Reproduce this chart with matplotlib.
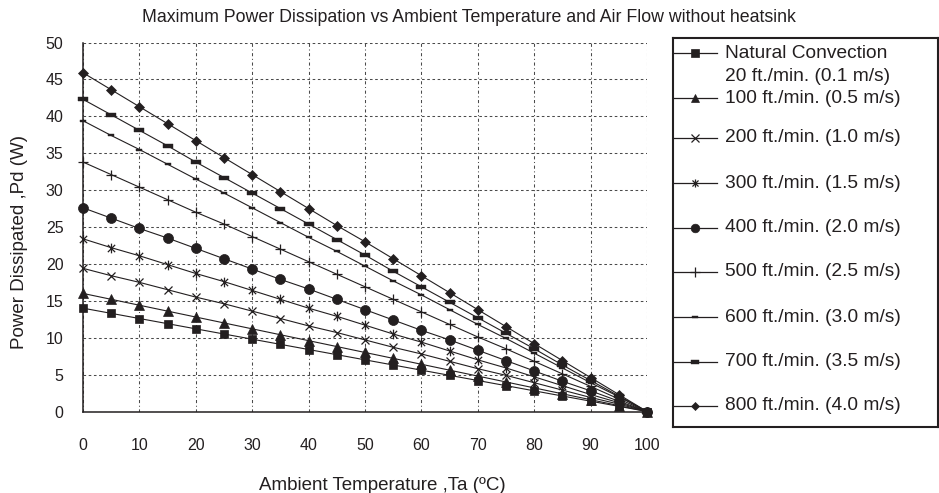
import matplotlib
matplotlib.use('Agg')
import matplotlib.pyplot as plt
from matplotlib.path import Path

plt.rcParams['font.family'] = ['Liberation Sans', 'DejaVu Sans']

# ---------------- data ----------------
temps = [0, 5, 10, 15, 20, 25, 30, 35, 40, 45, 50, 55, 60, 65, 70, 75, 80, 85, 90, 95, 100]

series_labels = [
    "Natural Convection\n20 ft./min. (0.1 m/s)",
    "100 ft./min. (0.5 m/s)",
    "200 ft./min. (1.0 m/s)",
    "300 ft./min. (1.5 m/s)",
    "400 ft./min. (2.0 m/s)",
    "500 ft./min. (2.5 m/s)",
    "600 ft./min. (3.0 m/s)",
    "700 ft./min. (3.5 m/s)",
    "800 ft./min. (4.0 m/s)",
]

pd_natural = [14.0, 13.3, 12.6, 11.9, 11.2, 10.5, 9.8, 9.1, 8.4, 7.7, 7.0, 6.3, 5.6, 4.9, 4.2, 3.5, 2.8, 2.1, 1.4, 0.7, 0.0]
pd_100 = [16.0, 15.2, 14.4, 13.6, 12.8, 12.0, 11.2, 10.4, 9.6, 8.8, 8.0, 7.2, 6.4, 5.6, 4.8, 4.0, 3.2, 2.4, 1.6, 0.8, 0.0]
pd_200 = [19.4, 18.4, 17.5, 16.5, 15.5, 14.6, 13.6, 12.6, 11.6, 10.7, 9.7, 8.7, 7.8, 6.8, 5.8, 4.9, 3.9, 2.9, 1.9, 1.0, 0.0]
pd_300 = [23.4, 22.2, 21.1, 19.9, 18.7, 17.6, 16.4, 15.2, 14.0, 12.9, 11.7, 10.5, 9.4, 8.2, 7.0, 5.9, 4.7, 3.5, 2.3, 1.2, 0.0]
pd_400 = [27.6, 26.2, 24.8, 23.5, 22.1, 20.7, 19.3, 17.9, 16.6, 15.2, 13.8, 12.4, 11.0, 9.7, 8.3, 6.9, 5.5, 4.1, 2.8, 1.4, 0.0]
pd_500 = [33.8, 32.1, 30.4, 28.7, 27.0, 25.4, 23.7, 22.0, 20.3, 18.6, 16.9, 15.2, 13.5, 11.8, 10.1, 8.5, 6.8, 5.1, 3.4, 1.7, 0.0]
pd_600 = [39.4, 37.4, 35.5, 33.5, 31.5, 29.6, 27.6, 25.6, 23.6, 21.7, 19.7, 17.7, 15.8, 13.8, 11.8, 9.9, 7.9, 5.9, 3.9, 2.0, 0.0]
pd_700 = [42.3, 40.2, 38.1, 36.0, 33.8, 31.7, 29.6, 27.5, 25.4, 23.3, 21.2, 19.0, 16.9, 14.8, 12.7, 10.6, 8.5, 6.3, 4.2, 2.1, 0.0]
pd_800 = [45.9, 43.6, 41.3, 39.0, 36.7, 34.4, 32.1, 29.8, 27.5, 25.2, 23.0, 20.7, 18.4, 16.1, 13.8, 11.5, 9.2, 6.9, 4.6, 2.3, 0.0]

series_values = [pd_natural, pd_100, pd_200, pd_300, pd_400, pd_500, pd_600, pd_700, pd_800]

x_ticks = [0, 10, 20, 30, 40, 50, 60, 70, 80, 90, 100]
y_ticks = [0, 5, 10, 15, 20, 25, 30, 35, 40, 45, 50]

# ---------------- styles ----------------
asterisk = Path([(0, -1), (0, 1), (-0.75, -0.75), (0.75, 0.75), (-0.75, 0.75), (0.75, -0.75)],
                [Path.MOVETO, Path.LINETO, Path.MOVETO, Path.LINETO, Path.MOVETO, Path.LINETO])
bar_small = [(-1, -0.4), (1, -0.4), (1, 0.4), (-1, 0.4), (-1, -0.4)]
bar_big = [(-1, -0.45), (1, -0.45), (1, 0.45), (-1, 0.45), (-1, -0.45)]

# marker, plot size, legend size, edge width
styles = [
    ('s', 6.0, 5.4, 0.5),
    ('^', 6.5, 5.8, 0.5),
    ('x', 6.0, 5.2, 0.9),
    (asterisk, 7.0, 5.8, 0.9),
    ('o', 7.2, 6.2, 0.5),
    ('+', 7.5, 6.8, 0.9),
    (bar_small, 5.0, 4.4, 0.3),
    (bar_big, 6.5, 6.0, 0.3),
    ('D', 4.6, 4.4, 0.5),
]

INK = '#231f20'
W, H = 939, 493
fig = plt.figure(figsize=(W / 100, H / 100), dpi=100)

# plot area in pixels
L, R, T, B = 83, 647, 42.5, 411.5
ax = fig.add_axes([L / W, (H - B) / H, (R - L) / W, (B - T) / H])

for i in range(len(series_values) - 1, -1, -1):
    m, ms, _, mew = styles[i]
    ax.plot(temps, series_values[i], color=INK, lw=0.8, marker=m, ms=ms,
            mfc=INK, mec=INK, mew=mew, clip_on=False, zorder=3 + (len(series_values) - i) * 0.01)

ax.set_xlim(0, 100)
ax.set_ylim(0, 50)
ax.set_xticks(x_ticks)
ax.set_yticks(y_ticks)
ax.tick_params(axis='both', length=0, labelsize=11.5, colors=INK)
ax.tick_params(axis='x', pad=19)
ax.tick_params(axis='y', pad=14)

for s in ['top', 'right']:
    ax.spines[s].set_visible(False)
for s in ['left', 'bottom']:
    ax.spines[s].set_linewidth(1.1)
    ax.spines[s].set_color(INK)
    ax.spines[s].set_zorder(4)

ax.xaxis.grid(True, color='#4a4a4a', lw=0.75, linestyle=(0, (3, 2.5, 1, 2.5)))
ax.yaxis.grid(True, color='#4a4a4a', lw=0.75, linestyle=(0, (2.5, 2.5)))
ax.set_axisbelow(True)

fig.text(382 / W, 1 - 485 / H, "Ambient Temperature ,Ta (ºC)", ha='center', va='center',
         fontsize=13.5, color=INK)
fig.text(20 / W, 1 - 242 / H, "Power Dissipated ,Pd (W)", ha='center', va='center',
         rotation=90, fontsize=13.5, color=INK)
fig.text(469 / W, 1 - 18 / H, "Maximum Power Dissipation vs Ambient Temperature and Air Flow without heatsink",
         ha='center', va='center', fontsize=12.8, color=INK)

# ---------------- legend box ----------------
LX0, LX1, LY0, LY1 = 672.5, 937.5, 38, 427
lax = fig.add_axes([LX0 / W, (H - LY1) / H, (LX1 - LX0) / W, (LY1 - LY0) / H])
lax.set_xlim(LX0, LX1)
lax.set_ylim(LY1, LY0)
lax.set_xticks([])
lax.set_yticks([])
for s in lax.spines.values():
    s.set_linewidth(1.5)
    s.set_color(INK)

entry_y = [53, 98, 138, 183, 228, 272, 317, 362, 406]
for i, lab in enumerate(series_labels):
    m, _, lms, mew = styles[i]
    y = entry_y[i]
    lax.plot([LX0, 717], [y, y], color=INK, lw=0.9, marker=None)
    lax.plot([695], [y], color=INK, marker=m, ms=lms, mfc=INK, mec=INK, mew=mew, ls='none')
    lines = lab.split('\n')
    for k, line in enumerate(lines):
        lax.text(725, y + k * 23, line, ha='left', va='center', fontsize=13.8, color=INK)

fig.savefig('out.png', dpi=100, facecolor='white')
